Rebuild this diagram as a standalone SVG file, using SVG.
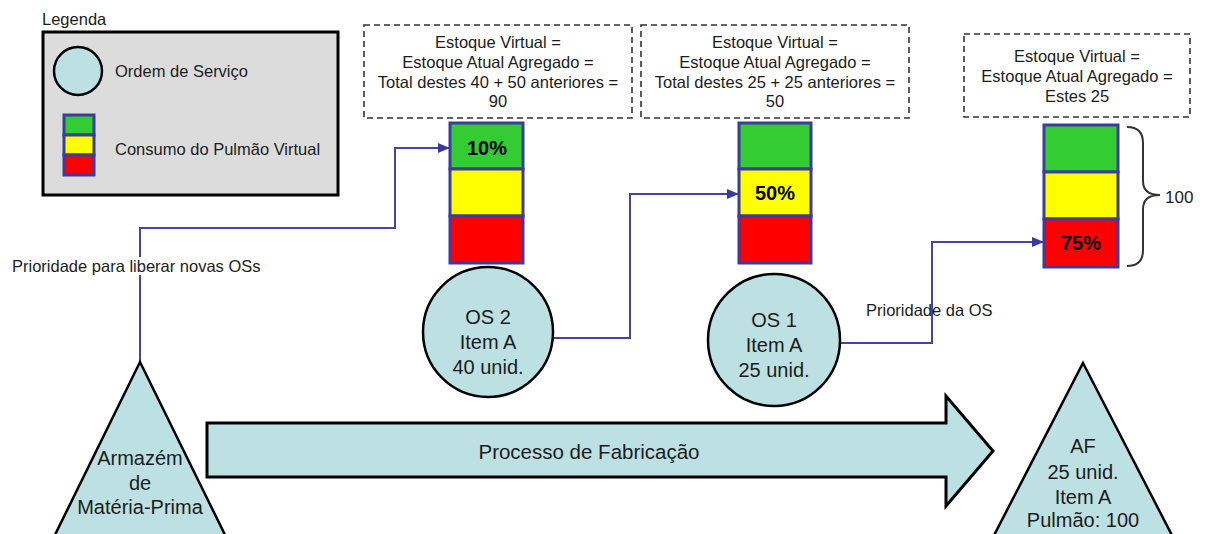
<svg xmlns="http://www.w3.org/2000/svg" width="1205" height="534" viewBox="0 0 1205 534">
  <style>
    text { font-family: "Liberation Sans", Arial, sans-serif; fill: #1c1c1c; }
    .lbl { font-size: 16.5px; }
    .big { font-size: 20px; text-anchor: middle; }
    .note { font-size: 16.5px; text-anchor: middle; }
    .pct { font-size: 20px; font-weight: bold; text-anchor: middle; fill: #000; }
    .os { fill: #bde0e3; stroke: #000; stroke-width: 2.5; }
    .dash { fill: #fff; stroke: #333; stroke-width: 1.6; stroke-dasharray: 6 4; }
    .g { fill: #33cc33; stroke: #3c3c9c; stroke-width: 3; }
    .y { fill: #ffff00; stroke: #3c3c9c; stroke-width: 3; }
    .r { fill: #ff0000; stroke: #3c3c9c; stroke-width: 3; }
    .link { fill: none; stroke: #4444a8; stroke-width: 2; }
  </style>
  <defs>
    <marker id="arrow" markerWidth="12" markerHeight="10" refX="11" refY="5" orient="auto" markerUnits="userSpaceOnUse">
      <path d="M0,0 L12,5 L0,10 Z" fill="#3a3a9e"/>
    </marker>
  </defs>

  <rect width="1205" height="534" fill="#fff"/>

  <!-- legend -->
  <g id="legend">
    <text class="lbl" x="42" y="25">Legenda</text>
    <rect x="43" y="32" width="295" height="163" fill="#dcdcdc" stroke="#000" stroke-width="3"/>
    <circle cx="78" cy="71" r="24" class="os"/>
    <text class="lbl" x="115" y="77">Ordem de Serviço</text>
    <rect x="64" y="115" width="30" height="20" class="g"/>
    <rect x="64" y="135" width="30" height="20" class="y"/>
    <rect x="64" y="155" width="30" height="20" class="r"/>
    <text class="lbl" x="115" y="155">Consumo do Pulmão Virtual</text>
  </g>

  <!-- connectors -->
  <g id="connectors">
    <path class="link" d="M140,362 V228 H395 V148 H449" marker-end="url(#arrow)"/>
    <path class="link" d="M553,338 H630 V194 H738" marker-end="url(#arrow)"/>
    <path class="link" d="M841,343 H932 V242 H1043" marker-end="url(#arrow)"/>
    <rect x="10" y="257" width="256" height="18" fill="#fff"/>
    <text class="lbl" x="12" y="272">Prioridade para liberar novas OSs</text>
    <text class="lbl" x="866" y="316">Prioridade da OS</text>
  </g>

  <!-- virtual stock notes -->
  <g id="note-os2">
    <rect x="364" y="25" width="268" height="93" class="dash"/>
    <text class="note" x="498" y="48">Estoque Virtual =</text>
    <text class="note" x="498" y="68">Estoque Atual Agregado =</text>
    <text class="note" x="498" y="88">Total destes 40 + 50 anteriores =</text>
    <text class="note" x="498" y="107">90</text>
  </g>
  <g id="note-os1">
    <rect x="641" y="25" width="268" height="93" class="dash"/>
    <text class="note" x="775" y="48">Estoque Virtual =</text>
    <text class="note" x="775" y="68">Estoque Atual Agregado =</text>
    <text class="note" x="775" y="88">Total destes 25 + 25 anteriores =</text>
    <text class="note" x="775" y="107">50</text>
  </g>
  <g id="note-af">
    <rect x="964" y="34" width="226" height="83" class="dash"/>
    <text class="note" x="1077" y="62">Estoque Virtual =</text>
    <text class="note" x="1077" y="82">Estoque Atual Agregado =</text>
    <text class="note" x="1077" y="102">Estes 25</text>
  </g>

  <!-- buffers -->
  <g id="buffer-os2">
    <rect x="450" y="123" width="73" height="46" class="g"/>
    <rect x="450" y="169" width="73" height="47" class="y"/>
    <rect x="450" y="216" width="73" height="47" class="r"/>
    <text class="pct" x="487" y="155">10%</text>
  </g>
  <g id="buffer-os1">
    <rect x="739" y="123" width="72" height="46" class="g"/>
    <rect x="739" y="169" width="72" height="47" class="y"/>
    <rect x="739" y="216" width="72" height="47" class="r"/>
    <text class="pct" x="775" y="200">50%</text>
  </g>
  <g id="buffer-af">
    <rect x="1044" y="125" width="74" height="47" class="g"/>
    <rect x="1044" y="172" width="74" height="47" class="y"/>
    <rect x="1044" y="219" width="74" height="48" class="r"/>
    <text class="pct" x="1081" y="250">75%</text>
    <path d="M1127,127 Q1143,127 1143,143 L1143,181 Q1143,195 1160,195 Q1143,195 1143,209 L1143,250 Q1143,266 1127,266" fill="none" stroke="#333" stroke-width="2"/>
    <text class="lbl" x="1165" y="203" style="font-size:17px">100</text>
  </g>

  <!-- work orders -->
  <g id="os2">
    <circle cx="488" cy="332" r="65" class="os"/>
    <text class="big" x="488" y="324">OS 2</text>
    <text class="big" x="488" y="349">Item A</text>
    <text class="big" x="488" y="374">40 unid.</text>
  </g>
  <g id="os1">
    <circle cx="774" cy="340" r="66" class="os"/>
    <text class="big" x="774" y="327">OS 1</text>
    <text class="big" x="774" y="352">Item A</text>
    <text class="big" x="774" y="377">25 unid.</text>
  </g>

  <!-- raw material warehouse -->
  <g id="armazem">
    <path d="M140,362 L230,545 L50,545 Z" class="os"/>
    <text class="big" x="140" y="465">Armazém</text>
    <text class="big" x="140" y="490">de</text>
    <text class="big" x="140" y="514">Matéria-Prima</text>
  </g>

  <!-- manufacturing process -->
  <g id="processo">
    <path d="M207,423 H946 V396 L993,451 L946,506 V477 H207 Z" fill="#bde0e3" stroke="#000" stroke-width="3" stroke-linejoin="miter"/>
    <text class="big" x="589" y="459" style="font-size:20.5px">Processo de Fabricação</text>
  </g>

  <!-- finished goods -->
  <g id="af">
    <path d="M1083,363 L1177,545 L989,545 Z" class="os"/>
    <text class="big" x="1083" y="453">AF</text>
    <text class="big" x="1083" y="479">25 unid.</text>
    <text class="big" x="1083" y="504">Item A</text>
    <text class="big" x="1083" y="527">Pulmão: 100</text>
  </g>
</svg>
